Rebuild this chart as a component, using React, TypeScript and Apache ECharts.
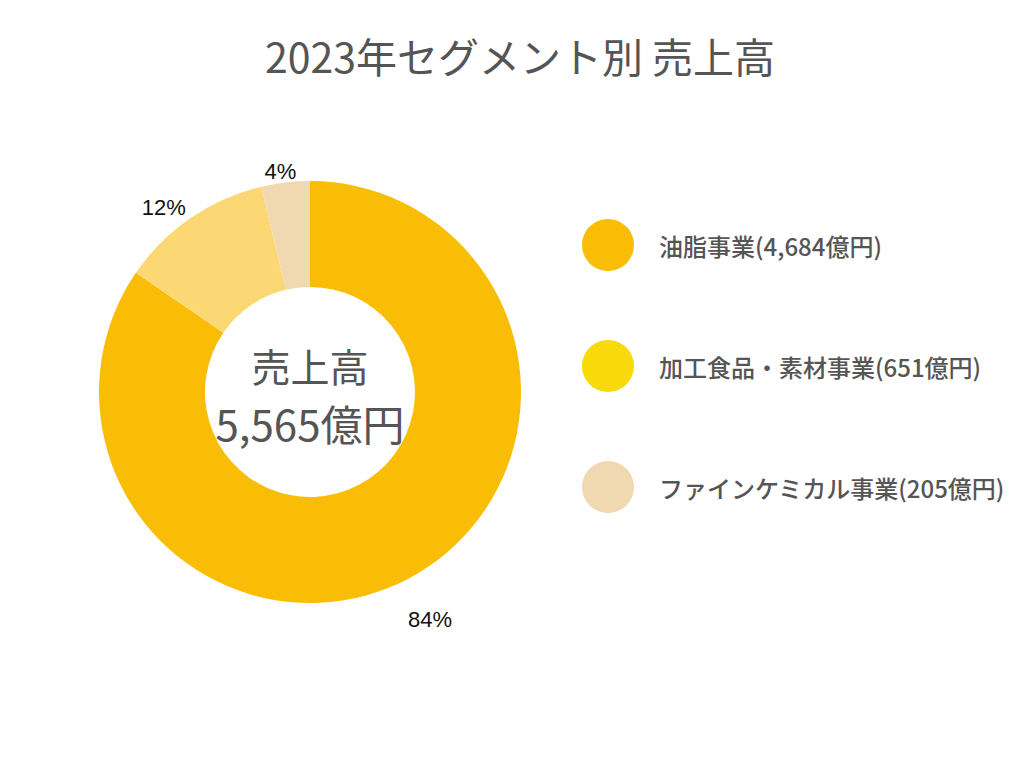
import React, { useEffect, useRef } from "react";
import * as echarts from "echarts";

const titleText = "2023年セグメント別 売上高";
const segments = ["油脂事業", "加工食品・素材事業", "ファインケミカル事業"];
const sales = [4684, 651, 205];
const totalSales = 5565;
const centerLabel = "売上高";
const centerValue = "5,565億円";
const sliceColors = ["#FABD05", "#FCD874", "#F0D9B0"];
const legendColors = ["#FABD05", "#F8DA0A", "#F0D9B0"];
const labelOffsets = [
  [-10, 32],
  [6, -2],
  [17, -1],
];

const fmt = (n: number) => n.toLocaleString("en-US");

export default function App() {
  const ref = useRef<HTMLDivElement>(null);
  useEffect(() => {
    if (!ref.current) return;
    const chart = echarts.init(ref.current, null, { renderer: "svg" });
    const names = segments.map((s, i) => `${s}(${fmt(sales[i])}億円)`);
    chart.setOption({
      animation: false,
      backgroundColor: "#ffffff",
      title: {
        text: titleText,
        left: "center",
        top: 21,
        textStyle: {
          fontSize: 41,
          fontWeight: "normal",
          color: "#555555",
          fontFamily: "Noto Sans CJK JP",
        },
      },
      legend: {
        orient: "vertical",
        left: 569,
        top: 206,
        itemWidth: 52,
        itemHeight: 52,
        itemGap: 69,
        icon: "circle",
        selectedMode: false,
        data: names.map((n, i) => ({
          name: n,
          itemStyle: { color: legendColors[i] },
        })),
        textStyle: {
          fontSize: 24,
          color: "#555555",
          fontWeight: 500,
          fontFamily: "Noto Sans CJK JP",
          padding: [0, 0, 0, 20],
        },
      },
      graphic: [
        {
          type: "text",
          x: 302,
          y: 357,
          style: {
            text: centerLabel,
            font: '39px "Noto Sans CJK JP"',
            lineHeight: 39,
            fill: "#555555",
            align: "center",
            verticalAlign: "middle",
          },
        },
        {
          type: "text",
          x: 302,
          y: 414,
          style: {
            text: centerValue,
            font: '42px "Noto Sans CJK JP"',
            lineHeight: 42,
            fill: "#555555",
            align: "center",
            verticalAlign: "middle",
          },
        },
      ],
      series: [
        {
          type: "pie",
          center: [302, 384],
          radius: [105, 211],
          startAngle: 90,
          clockwise: true,
          avoidLabelOverlap: false,
          data: names.map((n, i) => ({
            name: n,
            value: sales[i],
            itemStyle: { color: sliceColors[i] },
            label: { offset: labelOffsets[i] },
          })),
          label: {
            show: true,
            position: "outside",
            color: "#111111",
            fontSize: 22,
            fontFamily: "Liberation Sans",
            formatter: (p: any) =>
              `${Math.round((p.value / totalSales) * 100)}%`,
          },
          labelLine: { show: false, length: 10, length2: 0 },
          emphasis: { disabled: true },
        },
      ],
    });
    return () => chart.dispose();
  }, []);
  return <div ref={ref} style={{ width: 1024, height: 768 }} />;
}
